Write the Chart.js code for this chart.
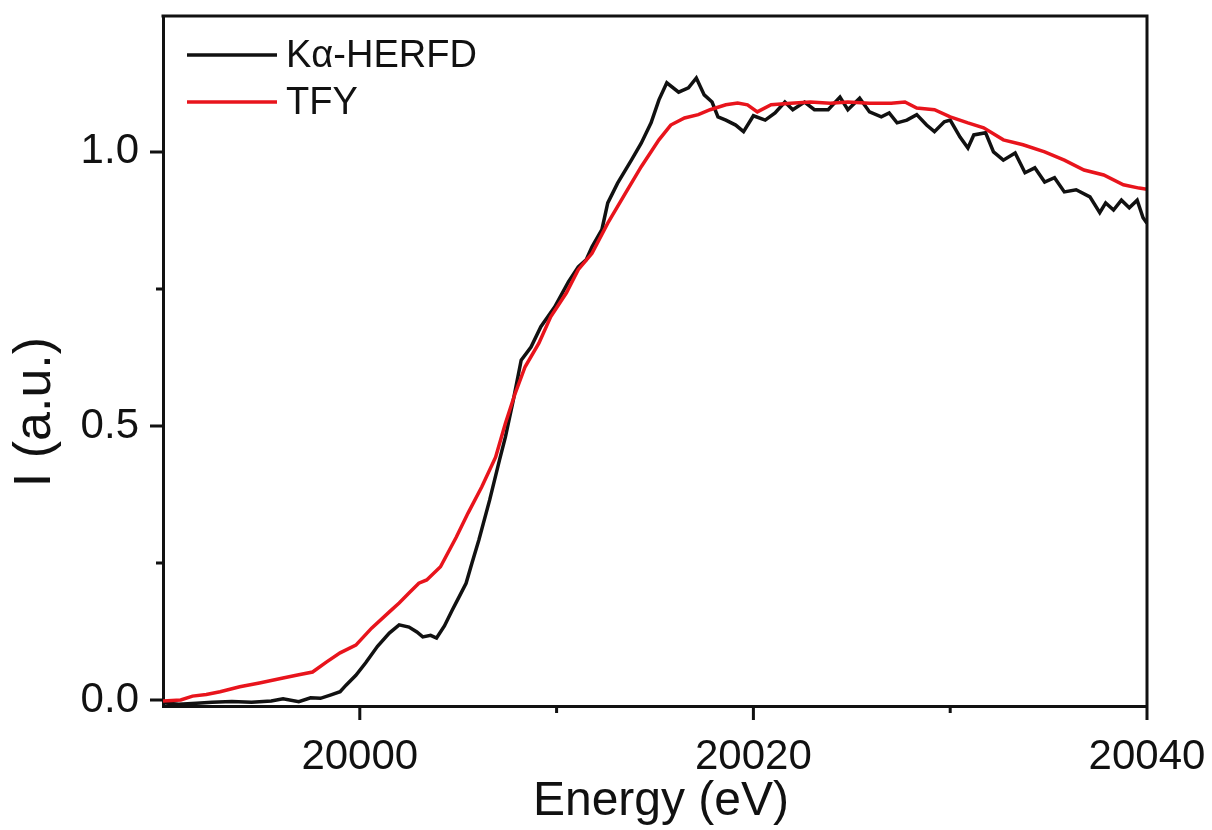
<!DOCTYPE html>
<html>
<head>
<meta charset="utf-8">
<title>HERFD vs TFY</title>
<script src="https://cdn.jsdelivr.net/npm/chart.js@4.4.1/dist/chart.umd.min.js"></script>
<style>
  html, body { margin: 0; padding: 0; background: #fff; }
  #wrap { width: 1212px; height: 830px; position: relative; }
</style>
</head>
<body>
<div id="wrap"><canvas id="xasChart"></canvas></div>
<script>
// K alpha HERFD (black)
const herfdEnergy = [
  19990, 19990.8, 19991.7, 19992.5, 19993.5, 19994.5, 19995.5, 19996.1, 19996.9, 19997.5,
  19998.0, 19998.5, 19999.0, 19999.3, 19999.8, 20000.3, 20000.9, 20001.5, 20002.0, 20002.5,
  20002.9, 20003.2, 20003.6, 20003.9, 20004.3, 20004.7, 20005.0, 20005.4, 20005.7, 20006.05,
  20006.6, 20007.1, 20007.4, 20007.8, 20008.2, 20008.7, 20009.2, 20009.9, 20010.6, 20011.1,
  20011.5, 20011.8, 20012.3, 20012.6, 20013.1, 20013.8, 20014.3, 20014.8, 20015.2, 20015.6,
  20016.2, 20016.7, 20017.1, 20017.5, 20017.9, 20018.2, 20018.6, 20019.1, 20019.5, 20020.0,
  20020.6, 20021.1, 20021.6, 20022.0, 20022.6, 20023.1, 20023.8, 20024.4, 20024.8, 20025.4,
  20025.9, 20026.5, 20026.9, 20027.3, 20027.8, 20028.3, 20028.8, 20029.2, 20029.7, 20030.0,
  20030.5, 20030.9, 20031.2, 20031.8, 20032.2, 20032.7, 20033.3, 20033.8, 20034.3, 20034.8,
  20035.3, 20035.8, 20036.4, 20037.1, 20037.6, 20037.9, 20038.3, 20038.7, 20039.1, 20039.5,
  20039.8, 20040
]
const herfdIntensity = [
  -0.005, -0.008, -0.006, -0.004, -0.003, -0.004, -0.002, 0.002, -0.003, 0.004,
  0.003, 0.009, 0.015, 0.027, 0.045, 0.068, 0.098, 0.122, 0.137, 0.133,
  0.124, 0.115, 0.118, 0.113, 0.135, 0.164, 0.185, 0.213, 0.25, 0.292,
  0.365, 0.438, 0.480, 0.547, 0.620, 0.644, 0.681, 0.717, 0.763, 0.790,
  0.803, 0.827, 0.858, 0.907, 0.943, 0.985, 1.016, 1.053, 1.095, 1.126,
  1.109, 1.117, 1.135, 1.104, 1.091, 1.064, 1.058, 1.049, 1.037, 1.066,
  1.058, 1.071, 1.091, 1.077, 1.091, 1.077, 1.077, 1.100, 1.077, 1.098,
  1.073, 1.064, 1.071, 1.053, 1.058, 1.068, 1.049, 1.037, 1.055, 1.058,
  1.027, 1.007, 1.031, 1.035, 1.000, 0.985, 0.998, 0.962, 0.971, 0.945,
  0.953, 0.927, 0.931, 0.918, 0.889, 0.907, 0.894, 0.912, 0.898, 0.912,
  0.880, 0.87
]

// TFY (red)
const tfyEnergy = [
  19990, 19990.9, 19991.5, 19992.2, 19992.9, 19993.9, 19994.9, 19996.1, 19996.9, 19997.6,
  19998.3, 19999.0, 19999.8, 20000.6, 20001.6, 20002.0, 20002.5, 20003.0, 20003.4, 20004.1,
  20004.9, 20005.5, 20006.2, 20006.9, 20007.4, 20007.9, 20008.4, 20009.1, 20009.7, 20010.5,
  20011.1, 20011.8, 20012.6, 20013.5, 20014.3, 20015.2, 20015.8, 20016.5, 20017.2, 20017.8,
  20018.6, 20019.2, 20019.7, 20020.2, 20020.9, 20021.9, 20022.9, 20023.9, 20024.8, 20025.9,
  20027.0, 20027.7, 20028.3, 20029.2, 20030.0, 20030.9, 20031.7, 20032.7, 20033.7, 20034.8,
  20035.8, 20036.8, 20037.8, 20038.8, 20039.6, 20040
]
const tfyIntensity = [
  -0.002, 0.0, 0.007, 0.010, 0.015, 0.024, 0.031, 0.040, 0.046, 0.051,
  0.069, 0.086, 0.100, 0.131, 0.164, 0.177, 0.195, 0.213, 0.219, 0.243,
  0.297, 0.341, 0.389, 0.443, 0.505, 0.560, 0.608, 0.651, 0.699, 0.743,
  0.785, 0.815, 0.870, 0.925, 0.973, 1.022, 1.049, 1.062, 1.068, 1.077,
  1.086, 1.089, 1.086, 1.073, 1.086, 1.089, 1.091, 1.089, 1.091, 1.089,
  1.089, 1.091, 1.080, 1.077, 1.064, 1.053, 1.044, 1.022, 1.013, 1.000,
  0.985, 0.967, 0.958, 0.940, 0.934, 0.932
]

const seriesNames = ['K\u03b1-HERFD', 'TFY']
const xMajorTicks = [20000, 20020, 20040]
const xMinorTicks = [20010, 20030]
const yMajorTicks = [0.0, 0.5, 1.0]
const yMinorTicks = [0.25, 0.75]

const BLACK = '#111111'
const RED = '#e8141c'
const FONT = '"Liberation Sans", Arial, sans-serif'

const toPoints = (xs, ys) => xs.map((x, i) => ({ x: x, y: ys[i] }))

// ticks, frame, titles and in-plot legend
const decorations = {
  id: 'decorations',
  afterDraw(chart) {
    const { ctx, chartArea: a, scales } = chart
    const xs = scales.x
    const ys = scales.y
    ctx.save()
    ctx.strokeStyle = BLACK
    ctx.lineWidth = 3
    ctx.lineCap = 'butt'

    // top and right frame
    ctx.beginPath()
    ctx.moveTo(a.left - 1.5, a.top)
    ctx.lineTo(a.right, a.top)
    ctx.lineTo(a.right, a.bottom)
    ctx.stroke()

    ctx.beginPath()
    xMajorTicks.forEach(v => {
      const px = xs.getPixelForValue(v)
      ctx.moveTo(px, a.bottom); ctx.lineTo(px, a.bottom + 14)
    })
    xMinorTicks.forEach(v => {
      const px = xs.getPixelForValue(v)
      ctx.moveTo(px, a.bottom); ctx.lineTo(px, a.bottom + 7)
    })
    yMajorTicks.forEach(v => {
      const py = ys.getPixelForValue(v)
      ctx.moveTo(a.left, py); ctx.lineTo(a.left - 13, py)
    })
    yMinorTicks.forEach(v => {
      const py = ys.getPixelForValue(v)
      ctx.moveTo(a.left, py); ctx.lineTo(a.left - 7, py)
    })
    ctx.stroke()

    // axis titles
    ctx.fillStyle = BLACK
    ctx.font = '48px ' + FONT
    ctx.textAlign = 'center'
    ctx.textBaseline = 'alphabetic'
    ctx.fillText('Energy (eV)', (a.left + a.right) / 2 + 6, 815)

    ctx.save()
    ctx.font = '52px ' + FONT
    ctx.translate(50, 412)
    ctx.rotate(-Math.PI / 2)
    ctx.fillText('I (a.u.)', 0, 0)
    ctx.restore()

    // legend
    const colors = [BLACK, RED]
    ctx.font = '38px ' + FONT
    ctx.textAlign = 'left'
    ctx.textBaseline = 'middle'
    seriesNames.forEach((name, i) => {
      const y = 55 + i * 47
      ctx.strokeStyle = colors[i]
      ctx.lineWidth = 3.5
      ctx.beginPath()
      ctx.moveTo(187, y); ctx.lineTo(277, y)
      ctx.stroke()
      ctx.fillStyle = BLACK
      ctx.fillText(name, 286, y + 2)
    })
    ctx.restore()
  }
}

document.addEventListener('DOMContentLoaded', () => {
  const ctx = document.getElementById('xasChart').getContext('2d')

  new Chart(ctx, {
    type: 'line',
    data: {
      datasets: [
        {
          label: seriesNames[0],
          data: toPoints(herfdEnergy, herfdIntensity),
          borderColor: BLACK,
          borderWidth: 3.5,
          pointRadius: 0,
          tension: 0,
          order: 1,
        },
        {
          label: seriesNames[1],
          data: toPoints(tfyEnergy, tfyIntensity),
          borderColor: RED,
          borderWidth: 3.5,
          pointRadius: 0,
          tension: 0,
          order: 0,
        },
      ],
    },
    options: {
      responsive: true,
      maintainAspectRatio: false,
      animation: false,
      events: [],
      layout: { padding: { top: 16, right: 65, left: 0, bottom: 0 } },
      plugins: { legend: { display: false }, tooltip: { enabled: false } },
      scales: {
        x: {
          type: 'linear',
          min: 19990,
          max: 20040,
          afterBuildTicks: s => { s.ticks = xMajorTicks.map(v => ({ value: v })) },
          afterFit: s => {
            s.height = 124
            s.paddingLeft = 0
            s.paddingRight = 0
          },
          grid: { display: false, drawTicks: false },
          border: { display: true, color: BLACK, width: 3 },
          ticks: {
            color: BLACK,
            padding: 26,
            maxRotation: 0,
            autoSkip: false,
            font: { family: FONT, size: 42 },
            callback: v => String(v),
          },
        },
        y: {
          type: 'linear',
          min: -0.011,
          max: 1.248,
          afterBuildTicks: s => { s.ticks = yMajorTicks.map(v => ({ value: v })) },
          afterFit: s => {
            s.width = 163
            s.paddingTop = 0
            s.paddingBottom = 0
          },
          grid: { display: false, drawTicks: false },
          border: { display: true, color: BLACK, width: 3 },
          ticks: {
            color: BLACK,
            padding: 24,
            font: { family: FONT, size: 42 },
            callback: v => v.toFixed(1),
          },
        },
      },
    },
    plugins: [decorations],
  })
})
</script>
</body>
</html>
